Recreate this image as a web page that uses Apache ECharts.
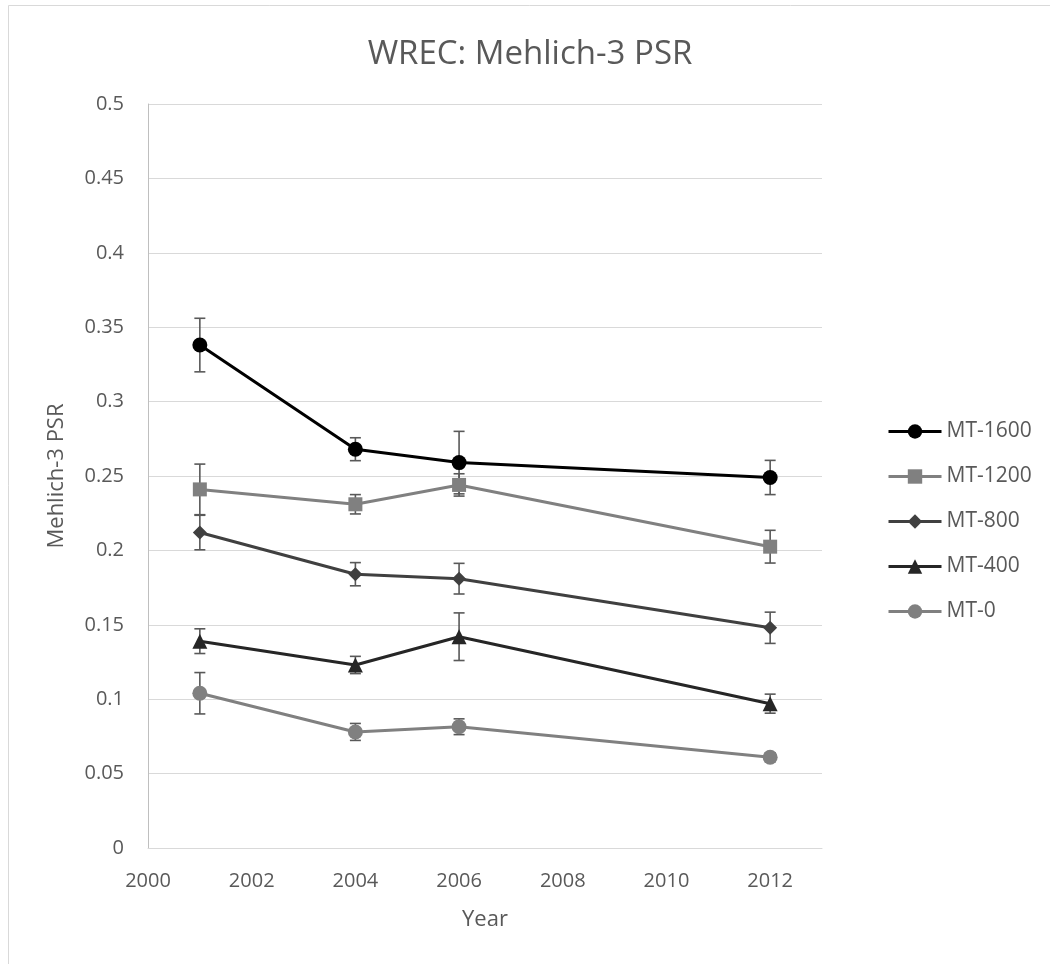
<!DOCTYPE html>
<html>
<head>
<meta charset="utf-8">
<script src="https://cdn.jsdelivr.net/npm/echarts@6/dist/echarts.min.js"></script>
<style>
  html, body { margin: 0; padding: 0; background: #fff; }
  #chart { width: 1050px; height: 964px; }
</style>
</head>
<body>
<div id="chart"></div>
<script>
// ---- Data ----
const years = [2001, 2004, 2006, 2012];
const seriesNames = ['MT-1600', 'MT-1200', 'MT-800', 'MT-400', 'MT-0'];
const mt1600 = [0.338, 0.268, 0.259, 0.249];
const err1600 = [0.018, 0.0077, 0.021, 0.0115];
const mt1200 = [0.241, 0.231, 0.244, 0.2025];
const err1200 = [0.017, 0.0065, 0.0075, 0.011];
const mt800 = [0.212, 0.184, 0.181, 0.148];
const err800 = [0.0116, 0.0078, 0.0103, 0.0105];
const mt400 = [0.139, 0.123, 0.142, 0.097];
const err400 = [0.0083, 0.0058, 0.016, 0.0064];
const mt0 = [0.104, 0.078, 0.0815, 0.061];
const err0 = [0.0139, 0.0057, 0.0053, 0.003];

const values = [mt1600, mt1200, mt800, mt400, mt0];
const errors = [err1600, err1200, err800, err400, err0];
const colors = ['#000000', '#808080', '#404040', '#262626', '#808080'];
const symbols = ['circle', 'rect', 'diamond', 'triangle', 'circle'];
const symbolSizes = [15, 14, 14, 15, 15];

const FONT = "'Open Sans', 'Noto Sans', sans-serif";
const TXT = '#595959';

const chart = echarts.init(document.getElementById('chart'), null, { renderer: 'canvas' });

const series = [];
values.forEach((vals, i) => {
  // error bars
  series.push({
    type: 'custom',
    name: seriesNames[i] + ' err',
    z: 1,
    silent: true,
    data: years.map((y, k) => [y, vals[k] - errors[i][k], vals[k] + errors[i][k]]),
    renderItem: function (params, api) {
      const lo = api.coord([api.value(0), api.value(1)]);
      const hi = api.coord([api.value(0), api.value(2)]);
      const hw = 5.5;
      const style = { stroke: '#595959', lineWidth: 1.6 };
      return {
        type: 'group',
        children: [
          { type: 'line', shape: { x1: lo[0], y1: lo[1], x2: hi[0], y2: hi[1] }, style: style },
          { type: 'line', shape: { x1: lo[0] - hw, y1: lo[1], x2: lo[0] + hw, y2: lo[1] }, style: style },
          { type: 'line', shape: { x1: hi[0] - hw, y1: hi[1], x2: hi[0] + hw, y2: hi[1] }, style: style }
        ]
      };
    }
  });
  series.push({
    type: 'line',
    name: seriesNames[i],
    z: 3,
    data: years.map((y, k) => [y, vals[k]]),
    symbol: symbols[i],
    symbolSize: symbolSizes[i],
    showAllSymbol: true,
    lineStyle: { color: colors[i], width: 3 },
    itemStyle: { color: colors[i] },
    emphasis: { disabled: true },
    animation: false
  });
});

const option = {
  animation: false,
  backgroundColor: '#ffffff',
  title: {
    text: 'WREC: Mehlich-3 PSR',
    left: 525,
    textAlign: 'center',
    top: 33,
    textStyle: { fontFamily: FONT, fontSize: 33, fontWeight: 'normal', color: TXT }
  },
  graphic: [{
    type: 'rect',
    shape: { x: 8.5, y: 5.5, width: 1200, height: 1200 },
    style: { fill: 'none', stroke: '#d9d9d9', lineWidth: 1 },
    silent: true
  }],
  legend: {
    orient: 'vertical',
    left: 887,
    top: 421,
    padding: 0,
    itemWidth: 53,
    itemHeight: 18,
    itemGap: 24,
    data: seriesNames,
    lineStyle: { width: 3 },
    textStyle: { fontFamily: FONT, fontSize: 21, color: TXT }
  },
  grid: { left: 148, right: 228, top: 104, bottom: 116, containLabel: false },
  xAxis: {
    type: 'value',
    min: 2000,
    max: 2013,
    interval: 2,
    name: 'Year',
    nameLocation: 'middle',
    nameGap: 61,
    nameTextStyle: { fontFamily: FONT, fontSize: 22, color: TXT },
    axisLine: { show: true, onZero: false, lineStyle: { color: '#d9d9d9', width: 1 } },
    axisTick: { show: false },
    splitLine: { show: false },
    axisLabel: {
      fontFamily: FONT, fontSize: 20, color: TXT, margin: 23,
      showMaxLabel: false,
      formatter: function (v) { return (v % 2 === 0) ? String(v) : ''; }
    }
  },
  yAxis: {
    type: 'value',
    min: 0,
    max: 0.5,
    interval: 0.05,
    name: 'Mehlich-3 PSR',
    nameLocation: 'middle',
    nameGap: 80,
    nameTextStyle: { fontFamily: FONT, fontSize: 22, color: TXT },
    axisLine: { show: true, lineStyle: { color: '#bfbfbf', width: 1 } },
    axisTick: { show: false },
    splitLine: { show: true, lineStyle: { color: '#d9d9d9', width: 1 } },
    axisLabel: {
      fontFamily: FONT, fontSize: 20, color: TXT, margin: 24,
      formatter: function (v) { return String(Math.round(v * 100) / 100); }
    }
  },
  series: series
};

chart.setOption(option);
</script>
</body>
</html>
